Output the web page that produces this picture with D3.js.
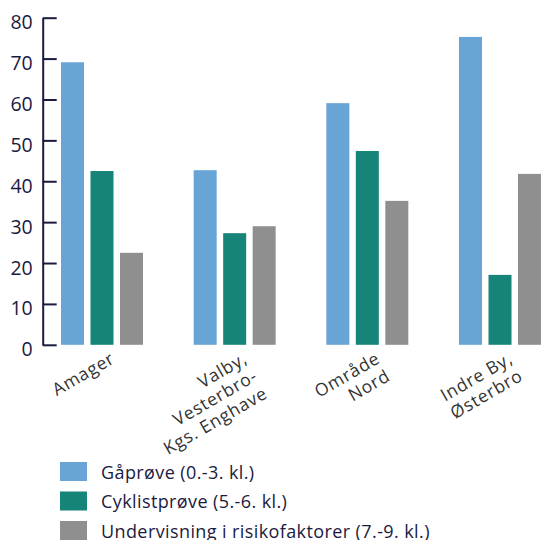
<!DOCTYPE html>
<html>
<head>
<meta charset="utf-8">
<script src="https://cdn.jsdelivr.net/npm/d3@7"></script>
<style>
  html, body { margin: 0; padding: 0; background: #fff; }
  svg { display: block; font-family: "Open Sans", sans-serif; }
</style>
</head>
<body>
<svg id="chart" width="542" height="540"></svg>
<script>
// Districts (label lines) and the three programmes
const categories = ["Amager", "Valby, Vesterbro-Kgs. Enghave", "Område Nord", "Indre By, Østerbro"];
const categoryLines = [["Amager"], ["Valby,", "Vesterbro-", "Kgs. Enghave"], ["Område", "Nord"], ["Indre By,", "Østerbro"]];
const seriesNames = ["Gåprøve (0.-3. kl.)", "Cyklistprøve (5.-6. kl.)", "Undervisning i risikofaktorer (7.-9. kl.)"];
const gaaproeve = [69.1, 42.7, 59.1, 75.3];
const cyklistproeve = [42.5, 27.3, 47.4, 17.1];
const undervisning = [22.5, 29.0, 35.2, 41.8];
const yTicks = [0, 10, 20, 30, 40, 50, 60, 70, 80];
const colors = ["#68a5d6", "#17847a", "#908f90"];

const seriesValues = [gaaproeve, cyklistproeve, undervisning];
const rows = categories.map((c, i) => ({
  cat: c, i,
  vals: seriesValues.map((s, k) => ({ k, v: s[i] }))
}));

const svg = d3.select("#chart");
const navy = "#1b1a3f";

const y = d3.scaleLinear().domain([0, 80]).range([344.8, 17.7]);
const x0 = d3.scaleBand().domain(categories).range([61, 541]).paddingInner(0.382).paddingOuter(0);
const x1 = d3.scaleBand().domain(d3.range(3)).range([0, x0.bandwidth()]).paddingInner(0.22).paddingOuter(0);

// bars
const groups = svg.append("g").selectAll("g").data(rows).join("g")
  .attr("transform", d => `translate(${x0(d.cat)},0)`);
groups.selectAll("rect").data(d => d.vals).join("rect")
  .attr("x", d => x1(d.k))
  .attr("width", x1.bandwidth())
  .attr("y", d => y(d.v))
  .attr("height", d => y(0) - y(d.v))
  .attr("fill", d => colors[d.k]);

// y axis with ticks pointing into the plot
const yAxis = svg.append("g").attr("transform", "translate(42.7,0)")
  .call(d3.axisLeft(y).tickValues(yTicks).tickSizeInner(-14).tickSizeOuter(0).tickPadding(10));
yAxis.select(".domain").attr("stroke", navy).attr("stroke-width", 2);
yAxis.selectAll(".tick line").attr("stroke", navy).attr("stroke-width", 2);
yAxis.selectAll(".tick text").attr("fill", navy).attr("font-size", 19.5)
  .attr("font-family", "Open Sans, sans-serif").attr("y", 4).attr("dy", "0.36em");

// rotated district labels
const labels = svg.append("g").selectAll("text").data(rows).join("text")
  .attr("transform", d => `translate(${x0(d.cat) + x0.bandwidth() / 2 + 14},362) rotate(-30)`)
  .attr("text-anchor", "end")
  .attr("fill", "#333")
  .attr("font-size", 17.5)
  .attr("letter-spacing", 0.8);
labels.selectAll("tspan").data(d => categoryLines[d.i]).join("tspan")
  .attr("x", 0)
  .attr("dy", (d, j) => j === 0 ? 0 : "1.15em")
  .text(d => d);

// legend
const legend = svg.append("g").selectAll("g").data(seriesNames).join("g")
  .attr("transform", (d, k) => `translate(60,${462 + k * 29.5})`);
legend.append("rect").attr("width", 27).attr("height", 19).attr("fill", (d, k) => colors[k]);
legend.append("text").attr("x", 41).attr("y", 16.5)
  .attr("fill", navy).attr("font-size", 18).attr("letter-spacing", 0.4)
  .text(d => d);
</script>
</body>
</html>
